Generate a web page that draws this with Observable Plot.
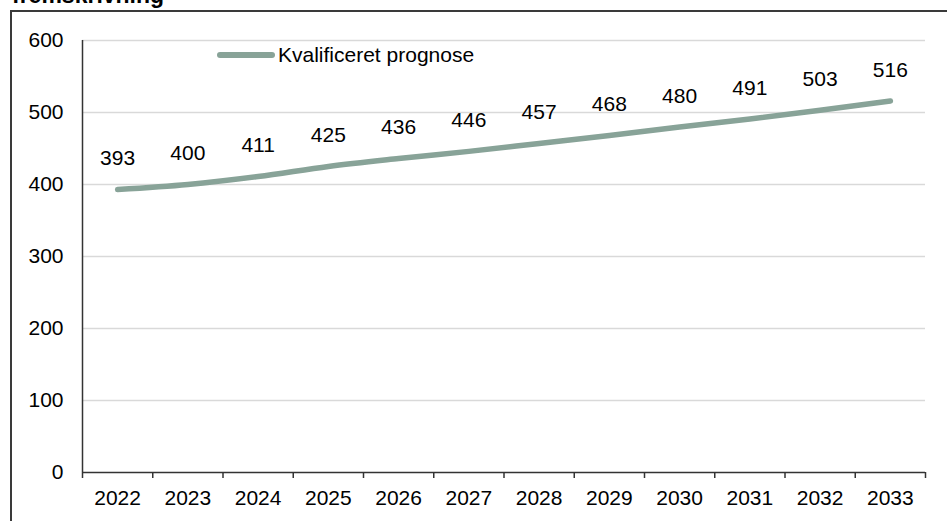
<!DOCTYPE html>
<html>
<head>
<meta charset="utf-8">
<script src="https://cdn.jsdelivr.net/npm/d3@7"></script>
<script src="https://cdn.jsdelivr.net/npm/@observablehq/plot@0.6"></script>
<style>
  html, body { margin: 0; padding: 0; background: #fff; }
  #wrap { position: relative; width: 947px; height: 521px; overflow: hidden; font-family: "Liberation Sans", Arial, sans-serif; }
  #title { position: absolute; left: 12px; top: -16px; font-weight: bold; font-size: 23px; line-height: 23px; color: #000; white-space: nowrap; }
  #frame { position: absolute; left: 10px; top: 10px; width: 960px; height: 540px; border: 2px solid #3a3a3a; box-sizing: border-box; }
  #chart { position: absolute; left: 0; top: 0; }
  #legend { position: absolute; left: 217px; top: 43px; display: flex; align-items: center; font-size: 21px; line-height: 24px; color: #000; }
  #legend .sw { width: 58px; height: 6px; border-radius: 3px; background: #88a398; margin-right: 3px; }
</style>
</head>
<body>
<div id="wrap">
  <div id="frame"></div>
  <div id="title">fremskrivning</div>
  <div id="chart"></div>
  <div id="legend"><span class="sw"></span><span>Kvalificeret prognose</span></div>
</div>
<script>
const years = [2022, 2023, 2024, 2025, 2026, 2027, 2028, 2029, 2030, 2031, 2032, 2033];
const values = [393, 400, 411, 425, 436, 446, 457, 468, 480, 491, 503, 516];
const yTicks = [0, 100, 200, 300, 400, 500, 600];
const seriesName = "Kvalificeret prognose";

const data = years.map((y, i) => ({ year: y, value: values[i] }));
const bounds = years.map(y => y - 0.5).concat([years[years.length - 1] + 0.5]);

const chart = Plot.plot({
  width: 947,
  height: 521,
  marginLeft: 82,
  marginRight: 22,
  marginTop: 40,
  marginBottom: 49,
  style: { fontFamily: "Liberation Sans, Arial, sans-serif", fontSize: "21px", color: "#000", background: "transparent" },
  x: { type: "linear", domain: [bounds[0], bounds[bounds.length - 1]] },
  y: { domain: [0, 600] },
  marks: [
    Plot.ruleY(yTicks.filter(d => d > 0), { stroke: "#d9d9d9", strokeWidth: 1.5 }),
    Plot.axisY({ ticks: yTicks, tickSize: 0, tickPadding: 19, label: null, tickFormat: d => String(d), fontSize: 21 }),
    Plot.axisX({ ticks: bounds, tickSize: 6, tickFormat: () => "", label: null, stroke: "#333", strokeWidth: 1.5 }),
    Plot.axisX({ ticks: years, tickSize: 0, tickPadding: 18, tickFormat: d => String(d), label: null, fontSize: 21 }),
    Plot.ruleX([bounds[0]], { y1: 0, y2: 600, stroke: "#333", strokeWidth: 1.5 }),
    Plot.ruleY([0], { stroke: "#333", strokeWidth: 1.5 }),
    Plot.line(data, { x: "year", y: "value", stroke: "#88a398", strokeWidth: 5.5, strokeLinecap: "round", curve: "monotone-x" }),
    Plot.text(data, { x: "year", y: "value", text: d => String(d.value), dy: -31, fontSize: 21, fill: "#000" })
  ]
});
document.getElementById("chart").appendChild(chart);
</script>
</body>
</html>
